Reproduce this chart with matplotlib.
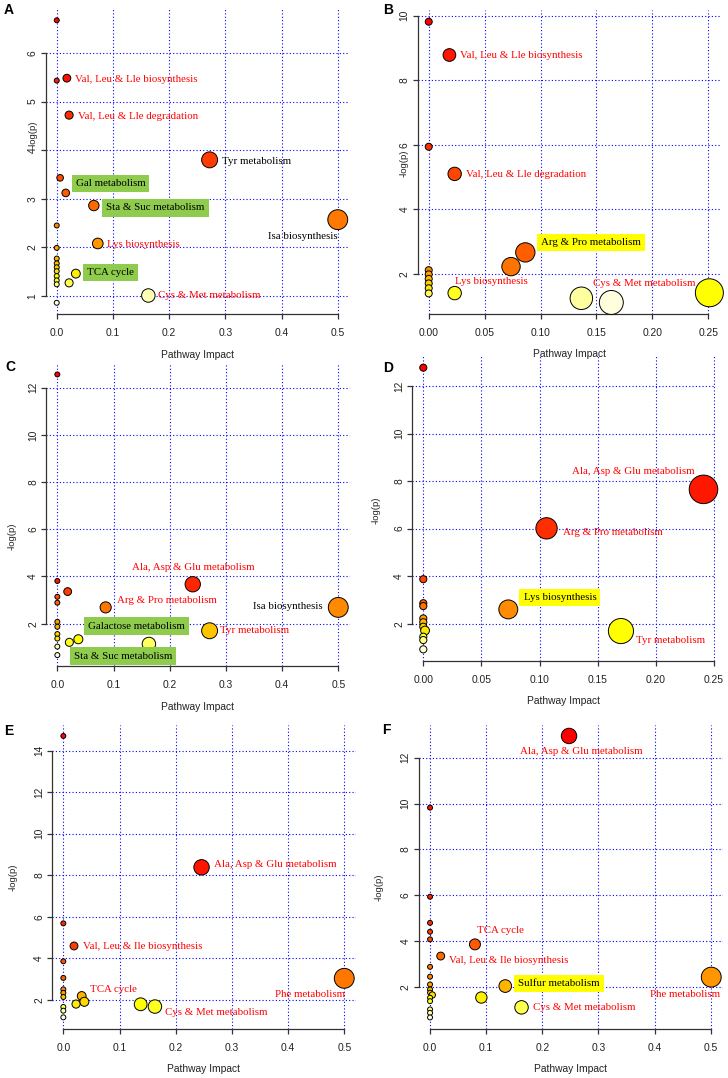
#!/usr/bin/env python3
import colorsys
import matplotlib
matplotlib.use("Agg")
import matplotlib.pyplot as plt

plt.rcParams['font.family'] = ['Liberation Sans', 'DejaVu Sans']

# pathway impact (x) and -log(p) (y)
a_impact = [0, 0, 0.018, 0.022, 0.272, 0.006, 0.016, 0.066, 0.5, 0, 0.073, 0,
            0, 0, 0, 0, 0.034, 0, 0, 0.022, 0, 0.163, 0]
a_logp = [6.67, 5.43, 5.48, 4.72, 3.80, 3.43, 3.12, 2.86, 2.57, 2.45, 2.08, 1.99,
          1.77, 1.67, 1.59, 1.51, 1.46, 1.41, 1.32, 1.27, 1.24, 1.01, 0.86]

b_impact = [0, 0.0185, 0, 0.0232, 0.0864, 0.0736, 0, 0, 0, 0, 0, 0.251, 0.0232,
            0, 0.1365, 0.1633]
b_logp = [9.81, 8.78, 5.94, 5.10, 2.67, 2.23, 2.12, 1.99, 1.85, 1.71, 1.56, 1.42,
          1.41, 1.40, 1.25, 1.12]

c_impact = [0, 0, 0.241, 0.0184, 0, 0, 0.086, 0.5, 0, 0, 0.271, 0, 0, 0.0374,
            0.0214, 0.163, 0, 0]
c_logp = [12.56, 3.81, 3.67, 3.36, 3.14, 2.89, 2.69, 2.69, 2.08, 1.87, 1.70, 1.56,
          1.37, 1.34, 1.21, 1.14, 1.03, 0.67]

d_impact = [0, 0.241, 0.106, 0, 0, 0, 0.0731, 0, 0, 0, 0.0015, 0.170, 0, 0, 0]
d_logp = [12.77, 7.65, 6.01, 3.87, 2.86, 2.74, 2.60, 2.22, 2.06, 1.87, 1.71, 1.69,
          1.45, 1.31, 0.92]

e_impact = [0, 0.246, 0, 0.019, 0, 0, 0.5, 0, 0, 0.0327, 0, 0.0374, 0.0226,
            0.1376, 0.163, 0, 0, 0]
e_logp = [14.71, 8.38, 5.68, 4.59, 3.85, 3.05, 3.03, 2.50, 2.33, 2.18, 2.13, 1.90,
          1.79, 1.78, 1.67, 1.65, 1.47, 1.15]

f_impact = [0.2476, 0, 0, 0, 0, 0, 0.080, 0.019, 0, 0, 0.501, 0, 0.134, 0, 0,
            0.004, 0.0914, 0, 0, 0.163, 0, 0, 0]
f_logp = [12.95, 9.82, 5.93, 4.79, 4.40, 4.07, 3.85, 3.34, 2.87, 2.44, 2.42, 2.10,
          2.03, 1.88, 1.74, 1.64, 1.53, 1.52, 1.37, 1.10, 1.01, 0.86, 0.66]

# tick values
x_ticks_half = [0.0, 0.1, 0.2, 0.3, 0.4, 0.5]
x_ticks_quarter = [0.0, 0.05, 0.10, 0.15, 0.20, 0.25]
a_yticks = [1, 2, 3, 4, 5, 6]
b_yticks = [2, 4, 6, 8, 10]
c_yticks = [2, 4, 6, 8, 10, 12]
d_yticks = [2, 4, 6, 8, 10, 12]
e_yticks = [2, 4, 6, 8, 10, 12, 14]
f_yticks = [2, 4, 6, 8, 10, 12]

# pathway labels (text, x, y)
a_notes = [("Val, Leu & Lle biosynthesis", 0.0326, 5.46),
           ("Val, Leu & Lle degradation", 0.0373, 4.69),
           ("Tyr metabolism", 0.2947, 3.77),
           ("Gal metabolism", 0.0373, 3.31),
           ("Sta & Suc metabolism", 0.0918, 2.81),
           ("Isa biosynthesis", 0.5, 2.22),
           ("Lys biosynthesis", 0.090, 2.05),
           ("TCA cycle", 0.058, 1.48),
           ("Cys & Met metabolism", 0.1797, 1.0)]
a_kind = ["red", "red", "black", "green", "green", "black_r", "red", "green", "red"]

b_notes = [("Val, Leu & Lle biosynthesis", 0.028, 8.76),
           ("Val, Leu & Lle degradation", 0.0334, 5.07),
           ("Arg & Pro metabolism", 0.1022, 2.98),
           ("Lys biosynthesis", 0.0235, 1.78),
           ("Cys & Met metabolism", 0.1466, 1.71)]
b_kind = ["red", "red", "yellow", "red", "red"]

c_notes = [("Ala, Asp & Glu metabolism", 0.242, 4.37),
           ("Arg & Pro metabolism", 0.1068, 3.0),
           ("Isa biosynthesis", 0.472, 2.72),
           ("Tyr metabolism", 0.2894, 1.73),
           ("Galactose metabolism", 0.0581, 1.90),
           ("Sta & Suc metabolism", 0.0332, 0.63)]
c_kind = ["red_c", "red", "black_r", "red", "green", "green"]

d_notes = [("Ala, Asp & Glu metabolism", 0.181, 8.42),
           ("Arg & Pro metabolism", 0.120, 5.84),
           ("Lys biosynthesis", 0.088, 3.11),
           ("Tyr metabolism", 0.1832, 1.31)]
d_kind = ["red_c", "red", "yellow", "red"]

e_notes = [("Ala, Asp & Glu metabolism", 0.268, 8.52),
           ("Val, Leu & Ile biosynthesis", 0.0344, 4.55),
           ("TCA cycle", 0.0474, 2.47),
           ("Phe metabolism", 0.502, 2.24),
           ("Cys & Met metabolism", 0.181, 1.39)]
e_kind = ["red", "red", "red", "red_r", "red"]

f_notes = [("Ala, Asp & Glu metabolism", 0.270, 12.26),
           ("TCA cycle", 0.1247, 4.45),
           ("Val, Leu & Ile biosynthesis", 0.0338, 3.14),
           ("Sulfur metabolism", 0.16, 2.15),
           ("Phe metabolism", 0.516, 1.65),
           ("Cys & Met metabolism", 0.184, 1.10)]
f_kind = ["red_c", "red_c", "red", "yellow", "red_r", "red"]

W, H, DPI = 728, 1078, 100

# plot regions in pixels: left, top, right, bottom
panels = [
    dict(letter="A", x=a_impact, y=a_logp, xt=x_ticks_half, fmt="%.1f", yt=a_yticks,
         notes=a_notes, kind=a_kind, box=(45.5, 9.0, 349.0, 314.1),
         letter_at=(8.8, 10.3), ylab_at=(33, 134)),
    dict(letter="B", x=b_impact, y=b_logp, xt=x_ticks_quarter, fmt="%.2f", yt=b_yticks,
         notes=b_notes, kind=b_kind, box=(417.5, 10.5, 720.6, 313.7),
         letter_at=(387.7, 10), ylab_at=(404, 163)),
    dict(letter="C", x=c_impact, y=c_logp, xt=x_ticks_half, fmt="%.1f", yt=c_yticks,
         notes=c_notes, kind=c_kind, box=(46.1, 363.2, 349.5, 666.3),
         letter_at=(10, 367.5), ylab_at=(11.7, 536)),
    dict(letter="D", x=d_impact, y=d_logp, xt=x_ticks_quarter, fmt="%.2f", yt=d_yticks,
         notes=d_notes, kind=d_kind, box=(412.1, 356.4, 714.7, 660.6),
         letter_at=(387.8, 367.7), ylab_at=(375.7, 510)),
    dict(letter="E", x=e_impact, y=e_logp, xt=x_ticks_half, fmt="%.1f", yt=e_yticks,
         notes=e_notes, kind=e_kind, box=(52.1, 724.7, 355.5, 1028.6),
         letter_at=(8.7, 731), ylab_at=(13.3, 877)),
    dict(letter="F", x=f_impact, y=f_logp, xt=x_ticks_half, fmt="%.1f", yt=f_yticks,
         notes=f_notes, kind=f_kind, box=(418.8, 724.7, 722.5, 1028.7),
         letter_at=(386.5, 730.3), ylab_at=(379, 887)),
]

RED = "#FF0000"
AX_COL = "#333333"


def heat_colors(n):
    # same ramp as R's heat.colors()
    j = n // 4
    i = n - j
    cols = [colorsys.hsv_to_rgb((1 / 6) * k / max(i - 1, 1), 1, 1) for k in range(i)]
    for k in range(j):
        s_hi, s_lo = 1 - 1 / (2 * j), 1 / (2 * j)
        s = s_hi - (s_hi - s_lo) * k / max(j - 1, 1) if j > 1 else 0.5
        cols.append(colorsys.hsv_to_rgb(1 / 6, s, 1))
    return cols


def r_range(v):
    lo, hi = min(v), max(v)
    pad = 0.04 * (hi - lo)
    return lo - pad, hi + pad


def note_style(kind):
    st = dict(fontsize=7.8, family=['Liberation Serif', 'DejaVu Serif'],
              va='center', ha='left', color=RED)
    if kind.endswith("_c"):
        st['ha'] = 'center'
    if kind.endswith("_r"):
        st['ha'] = 'right'
    if kind.startswith("black"):
        st['color'] = 'black'
    if kind in ("green", "yellow"):
        st['color'] = 'black'
        fc = "#8FCB4C" if kind == "green" else "#FFFF00"
        st['bbox'] = dict(boxstyle="square,pad=0.38", fc=fc, ec="none")
    return st


fig = plt.figure(figsize=(W / DPI, H / DPI), dpi=DPI)
fx = lambda px: px / W
fy = lambda py: 1 - py / H

for p in panels:
    l, t, r, b = p['box']
    ax = fig.add_axes([fx(l), fy(b), (r - l) / W, (b - t) / H])

    x, y = p['x'], p['y']
    order = sorted(range(len(y)), key=lambda k: -y[k])
    xs = [x[k] for k in order]
    ys = [y[k] for k in order]
    cols = heat_colors(len(ys))

    xlim = r_range(x)
    ylim = r_range(y)

    # circle radius in x units (sqrt of impact, MetaboAnalyst style)
    sq = [v ** 0.5 for v in xs]
    lo, hi = min(sq), max(sq)
    max_r, min_r = (hi - lo) / 40, (hi - lo) / 160
    rad = [min_r + (max_r - min_r) * (s - lo) / (hi - lo) for s in sq]
    pt_per_unit = (r - l) / (xlim[1] - xlim[0]) * 72 / DPI
    sizes = [(2 * rv * pt_per_unit) ** 2 for rv in rad]

    ax.scatter(xs, ys, s=sizes, c=cols, edgecolors='black', linewidths=0.7,
               zorder=3, clip_on=False)

    ax.set_xticks(p['xt'])
    ax.set_xticklabels([p['fmt'] % v for v in p['xt']])
    ax.set_yticks(p['yt'])
    ax.set_yticklabels(['%d' % v for v in p['yt']])
    ax.set_xlim(*xlim)
    ax.set_ylim(*ylim)

    ax.grid(True, color='#0000FF', linestyle=(0, (1, 2)), linewidth=0.8)
    ax.set_axisbelow(True)
    for side in ('top', 'right'):
        ax.spines[side].set_visible(False)
    ax.spines['left'].set_bounds(p['yt'][0], p['yt'][-1])
    ax.spines['bottom'].set_bounds(p['xt'][0], p['xt'][-1])
    for side in ('left', 'bottom'):
        ax.spines[side].set_color(AX_COL)
        ax.spines[side].set_linewidth(0.9)
    ax.patch.set_visible(False)

    ax.tick_params(direction='out', length=3.6, width=0.9, color=AX_COL,
                   labelsize=7.4, labelcolor='#222222')
    ax.tick_params(axis='x', pad=6.5)
    ax.tick_params(axis='y', pad=2.2, labelrotation=90)
    plt.setp(ax.get_yticklabels(), va='center')

    for (txt, tx, ty), kind in zip(p['notes'], p['kind']):
        if kind in ("green", "yellow"):
            ax.annotate(txt, xy=(tx, ty), xytext=(-1.5, 0), textcoords='offset points',
                        zorder=5, annotation_clip=False, **note_style(kind))
        else:
            ax.text(tx, ty, txt, zorder=5, clip_on=False, **note_style(kind))

    # panel letter, axis titles
    lx, ly = p['letter_at']
    fig.text(fx(lx), fy(ly), p['letter'], fontsize=10, fontweight='bold',
             ha='center', va='center')
    fig.text(fx((l + r) / 2), fy(b + 40.5), "Pathway Impact", fontsize=7.4,
             ha='center', va='center', color='#222222')
    yx, yy = p['ylab_at']
    fig.text(fx(yx), fy(yy), "-log(p)", fontsize=6.8, rotation=90,
             ha='center', va='center', color='#222222')

fig.savefig("out.png", dpi=DPI)
